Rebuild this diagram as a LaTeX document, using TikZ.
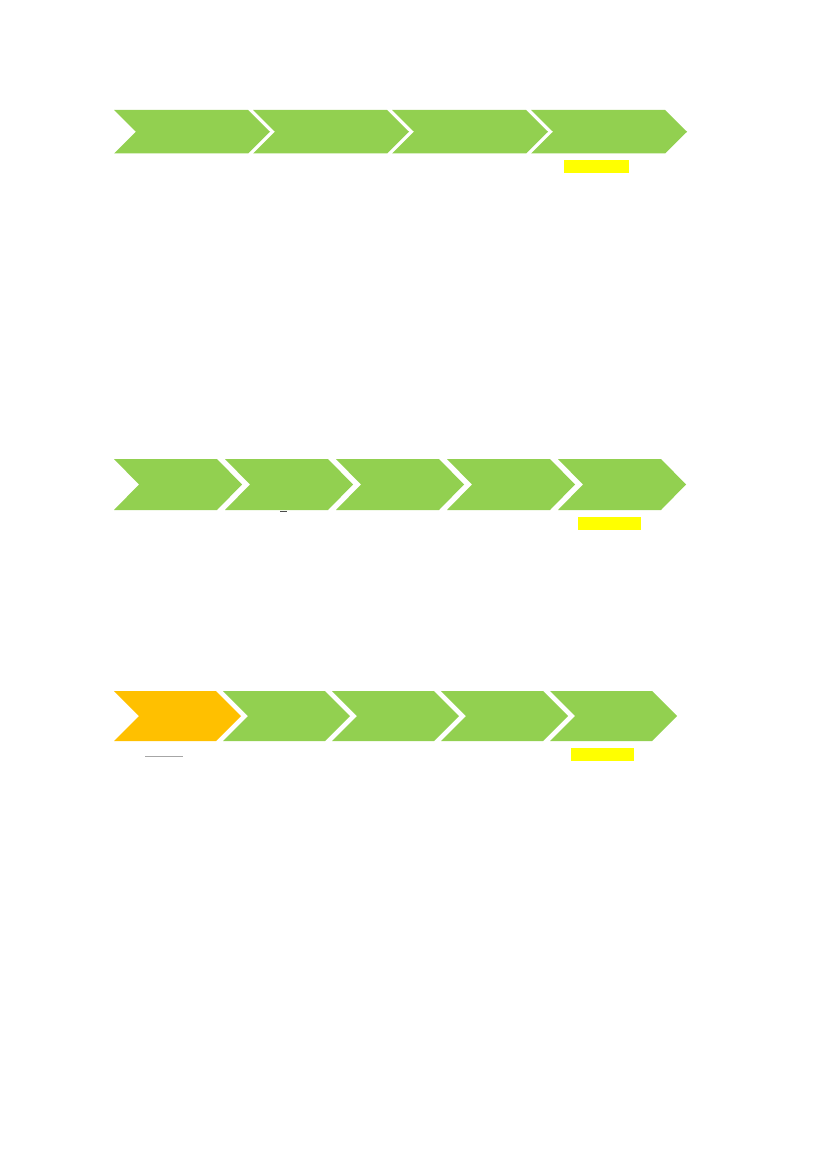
\documentclass[tikz,border=0pt]{standalone}
\definecolor{chgreen}{HTML}{92D050}
\definecolor{chorange}{HTML}{FFC000}
\definecolor{hlyellow}{HTML}{FFFF00}
\newcommand{\chevshape}[6]{% left x, top y, bottom y, body width, depth, colour
  \fill[#6] (#1,#2) -- ({#1+#4},#2) -- ({#1+#4+#5},{(#2+#3)/2}) -- ({#1+#4},#3)
    -- (#1,#3) -- ({#1+#5},{(#2+#3)/2}) -- cycle;}
\begin{document}
\begin{tikzpicture}[x=1pt,y=-1pt]
\useasboundingbox[fill=white] (0,0) rectangle (827,1169);
% row 1
\foreach \i in {0,...,3}{\chevshape{114+139*\i}{110}{153.5}{134}{22}{chgreen}}
\fill[hlyellow] (564,160) rectangle (629,173);
% row 2
\foreach \i in {0,...,4}{\chevshape{114+111*\i}{459}{510}{103}{25}{chgreen}}
\draw[gray!60!black,line width=1pt] (280,511.3) -- (287,511.3);
\fill[hlyellow] (578,517) rectangle (641,530);
% row 3
\chevshape{114}{691}{741}{102}{25}{chorange}
\foreach \i in {1,...,4}{\chevshape{114+109*\i}{691}{741}{102}{25}{chgreen}}
\draw[gray!70,line width=1pt] (145,756) -- (183,756);
\fill[hlyellow] (571,748) rectangle (634,761);
\end{tikzpicture}
\end{document}
